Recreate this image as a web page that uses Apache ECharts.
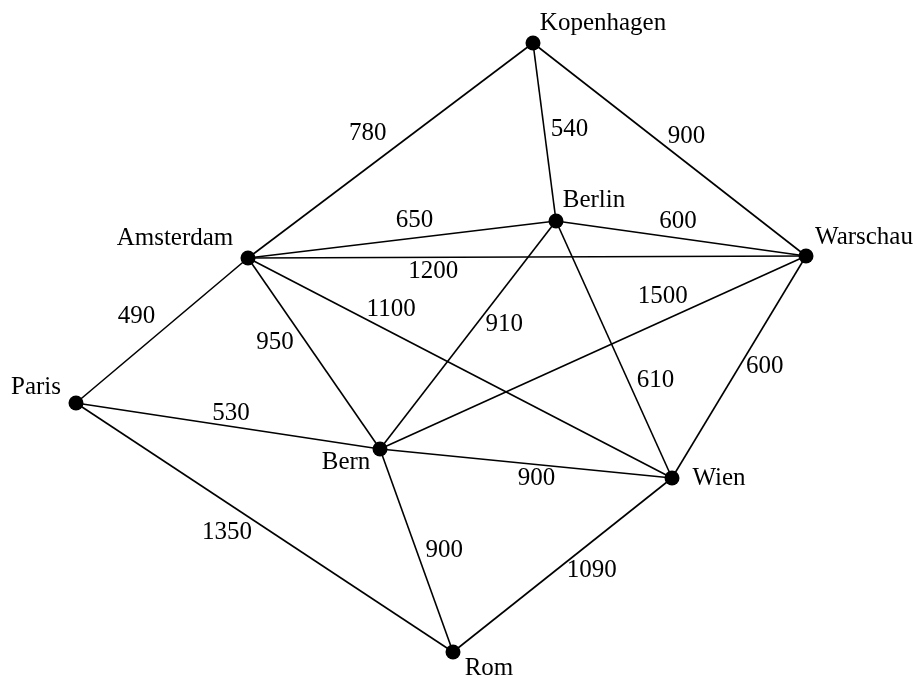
<!DOCTYPE html>
<html><head><meta charset="utf-8">
<script src="https://cdn.jsdelivr.net/npm/echarts@6/dist/echarts.min.js"></script>
<style>html,body{margin:0;padding:0;background:#fff}#c{width:917px;height:675px}</style>
</head><body><div id="c"></div>
<script>
// Data: cities with their drawn positions and the distances between them
const cities = ['Kopenhagen', 'Berlin', 'Amsterdam', 'Warschau', 'Paris', 'Bern', 'Wien', 'Rom'];
const cityX = [533, 556, 248, 806, 76, 380, 672, 453];
const cityY = [43, 221, 258, 256, 403, 449, 478, 652];

const edgeFrom = ['Amsterdam', 'Kopenhagen', 'Kopenhagen', 'Amsterdam', 'Berlin', 'Amsterdam', 'Amsterdam', 'Bern', 'Bern', 'Paris', 'Amsterdam', 'Berlin', 'Wien', 'Paris', 'Bern', 'Paris', 'Bern', 'Wien'];
const edgeTo   = ['Kopenhagen', 'Berlin', 'Warschau', 'Berlin', 'Warschau', 'Warschau', 'Wien', 'Berlin', 'Warschau', 'Amsterdam', 'Bern', 'Wien', 'Warschau', 'Bern', 'Wien', 'Rom', 'Rom', 'Rom'];
const distances = [780, 540, 900, 650, 600, 1200, 1100, 910, 1500, 490, 950, 610, 600, 530, 900, 1350, 900, 1090];

// Layout only: label offsets (pixels) and label placement along each edge
const cityLabelOffset = [[70, -20], [38, -21], [-73, -20], [58, -19], [-40, -16], [-34, 13], [47, 0], [36, 16]];
const edgeLabelPos = [0.48, 0.5, 0.5, 0.55, 0.5, 0.33, 0.314, 0.609, 0.687, 0.457, 0.364, 0.66, 0.558, 0.5, 0.539, 0.435, 0.537, 0.426];
const edgeLabelShift = [[-17, -21], [25, -3], [17, -13], [-3, -17], [-3, -17], [1, 14], [10, -18], [17, 14], [-10, -20], [-18, -20], [-21, 15], [23, -10], [18, 12], [3, -13], [-1, 14], [-13, 21], [25, -8], [13, 18]];

const FONT = '"Liberation Serif", "DejaVu Serif", serif';
const FS = 25;

const nodes = cities.map((n, i) => ({
  name: n,
  value: [cityX[i], cityY[i]],
  label: { show: true, position: 'inside', offset: cityLabelOffset[i], color: '#000', fontFamily: FONT, fontSize: FS }
}));
const links = edgeFrom.map((s, i) => ({ source: s, target: edgeTo[i], value: distances[i] }));

const edgeLabelData = edgeFrom.map((s, i) => {
  const a = cities.indexOf(s), b = cities.indexOf(edgeTo[i]);
  const t = edgeLabelPos[i];
  const x = cityX[a] + (cityX[b] - cityX[a]) * t + edgeLabelShift[i][0];
  const y = cityY[a] + (cityY[b] - cityY[a]) * t + edgeLabelShift[i][1];
  return [x, y, distances[i]];
});

const chart = echarts.init(document.getElementById('c'));
chart.setOption({
  animation: false,
  backgroundColor: '#fff',
  grid: { left: 0, right: 0, top: 0, bottom: 0 },
  xAxis: { type: 'value', min: 0, max: 917, show: false },
  yAxis: { type: 'value', min: 0, max: 675, inverse: true, show: false },
  series: [
    {
      type: 'graph',
      coordinateSystem: 'cartesian2d',
      layout: 'none',
      symbol: 'circle',
      symbolSize: 15,
      itemStyle: { color: '#000', opacity: 1 },
      lineStyle: { color: '#000', width: 1.6, opacity: 1, curveness: 0 },
      data: nodes,
      links: links,
      emphasis: { disabled: true },
      z: 3
    },
    {
      type: 'scatter',
      symbol: 'circle',
      symbolSize: 1,
      itemStyle: { color: 'rgba(0,0,0,0)', opacity: 1 },
      data: edgeLabelData,
      label: {
        show: true, position: 'inside', color: '#000', opacity: 1, fontFamily: FONT, fontSize: FS,
        formatter: p => String(p.value[2])
      },
      emphasis: { disabled: true },
      z: 4
    }
  ]
});
</script>
</body></html>
